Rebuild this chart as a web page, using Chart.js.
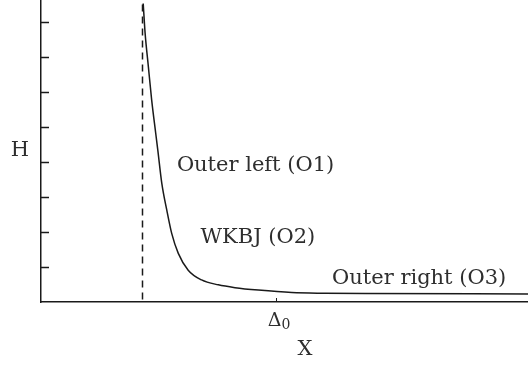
<!DOCTYPE html>
<html>
<head>
<meta charset="utf-8">
<script src="https://cdn.jsdelivr.net/npm/chart.js@4/dist/chart.umd.min.js"></script>
<style>
  html, body { margin: 0; padding: 0; background: #fff; }
  canvas { display: block; }
</style>
</head>
<body>
<canvas id="hChart" width="528" height="367"></canvas>
<script>
const xVals = [4.34, 4.42, 4.56, 4.70, 4.87, 4.96, 5.13, 5.34, 5.55, 5.83, 6.25, 6.82, 7.53, 8.24, 9.23, 10.65, 12.06, 13.76, 20.68];
const hVals = [8.53, 7.69, 6.72, 5.77, 4.83, 4.34, 3.39, 2.63, 1.96, 1.39, 0.91, 0.63, 0.49, 0.41, 0.34, 0.27, 0.25, 0.24, 0.23];

// vertical dashed marker (left edge of the region)
const markerX = [4.31, 4.31];
const markerH = [8.5, 0];

// axis ticks
const hTicks = [1, 2, 3, 4, 5, 6, 7, 8];
const xTicks = [10];
const xTickLabel = ['Δ', '0'];

// region labels: text, X, H (baseline)
const regionText = ['Outer left (O1)', 'WKBJ (O2)', 'Outer right (O3)'];
const regionX = [5.77, 6.77, 12.36];
const regionH = [3.75, 1.68, 0.51];

const ink = '#1a1a1a';
const textInk = '#2e2e2e';
const serif = '"DejaVu Serif", serif';

const decorations = {
  id: 'decorations',
  afterDraw(chart) {
    const ctx = chart.ctx;
    const xs = chart.scales.x, ys = chart.scales.y;
    const area = chart.chartArea;
    ctx.save();
    ctx.strokeStyle = ink;
    ctx.lineWidth = 1.5;
    // inward ticks on the H axis
    hTicks.forEach(v => {
      const py = Math.round(ys.getPixelForValue(v)) + 0.5;
      ctx.beginPath();
      ctx.moveTo(area.left, py);
      ctx.lineTo(area.left + 8, py);
      ctx.stroke();
    });
    // small tick on the X axis
    ctx.lineWidth = 1;
    xTicks.forEach(v => {
      const px = Math.round(xs.getPixelForValue(v)) + 0.5;
      ctx.beginPath();
      ctx.moveTo(px, area.bottom);
      ctx.lineTo(px, area.bottom - 4);
      ctx.stroke();
    });

    ctx.fillStyle = textInk;
    ctx.font = '21px ' + serif;
    ctx.textBaseline = 'alphabetic';
    ctx.textAlign = 'left';
    regionText.forEach((t, i) => {
      ctx.fillText(t, xs.getPixelForValue(regionX[i]), ys.getPixelForValue(regionH[i]));
    });

    // tick label Δ0
    const tx = xs.getPixelForValue(xTicks[0]);
    ctx.font = '19px ' + serif;
    ctx.textAlign = 'right';
    ctx.fillText(xTickLabel[0], tx + 5, area.bottom + 24);
    ctx.font = '14px ' + serif;
    ctx.textAlign = 'left';
    ctx.fillText(xTickLabel[1], tx + 5, area.bottom + 27);

    // axis titles
    ctx.font = '21px ' + serif;
    ctx.textAlign = 'center';
    ctx.textBaseline = 'middle';
    ctx.fillText('H', 20, (area.top + area.bottom) / 2);
    ctx.fillText('X', 305, area.bottom + 48);
    ctx.restore();
  }
};

new Chart(document.getElementById('hChart'), {
  type: 'line',
  data: {
    datasets: [
      {
        data: xVals.map((x, i) => ({ x: x, y: hVals[i] })),
        borderColor: ink,
        borderWidth: 1.5,
        pointRadius: 0,
        cubicInterpolationMode: 'monotone',
        fill: false
      },
      {
        data: markerX.map((x, i) => ({ x: x, y: markerH[i] })),
        borderColor: ink,
        borderWidth: 1.5,
        borderDash: [7, 5],
        pointRadius: 0,
        fill: false
      }
    ]
  },
  options: {
    responsive: false,
    animation: false,
    layout: { padding: { left: 41, right: 0, top: 0, bottom: 65 } },
    plugins: { legend: { display: false }, tooltip: { enabled: false } },
    scales: {
      x: {
        type: 'linear',
        min: 0,
        max: 20.68,
        ticks: { display: false },
        grid: { display: true, drawOnChartArea: false, drawTicks: false },
        border: { display: true, color: ink, width: 1.5 }
      },
      y: {
        type: 'linear',
        min: 0,
        max: 8.63,
        ticks: { display: false },
        grid: { display: true, drawOnChartArea: false, drawTicks: false },
        border: { display: true, color: ink, width: 1.5 }
      }
    }
  },
  plugins: [decorations]
});
</script>
</body>
</html>
